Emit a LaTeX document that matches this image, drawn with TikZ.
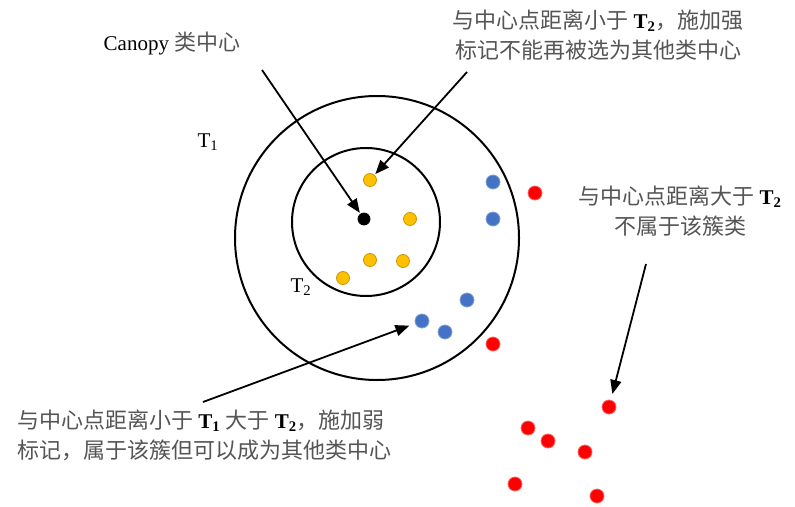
\documentclass[tikz,border=0pt]{standalone}
\usepackage{fontspec}
\setmainfont{Liberation Serif}
\newfontfamily\cjk{Noto Sans CJK SC}
\usetikzlibrary{arrows.meta}
\definecolor{dotyel}{HTML}{FFC000}
\definecolor{dotyeledge}{HTML}{C99700}
\definecolor{dotblue}{HTML}{4472C4}
\definecolor{dotblueedge}{HTML}{7F9FD8}
\definecolor{dotred}{HTML}{FF0000}
\definecolor{dotrededge}{HTML}{FF6060}
\definecolor{cjkgray}{HTML}{555555}
\newcommand{\Tsb}[1]{\textbf{T\textsubscript{#1}}}
\newcommand{\Tnl}[1]{T\textsubscript{#1}}
\newcommand{\zh}[1]{{\cjk\fontsize{22}{30}\selectfont\color{cjkgray}#1}}
\tikzset{
  ring/.style={circle, draw=black, line width=2pt, inner sep=0pt},
  pt/.style={circle, inner sep=0pt, minimum size=14pt, line width=0.8pt},
  ptk/.style={pt, fill=black, draw=black, minimum size=12pt},
  pty/.style={pt, fill=dotyel, draw=dotyeledge, minimum size=13pt},
  ptb/.style={pt, fill=dotblue, draw=dotblueedge},
  ptr/.style={pt, fill=dotred, draw=dotrededge},
  arr/.style={line width=1.8pt, -{Triangle[length=14pt,width=11pt]}},
  lbl/.style={inner sep=0pt, font=\fontsize{21}{30}\selectfont},
}
\begin{document}
\begin{tikzpicture}[x=1pt,y=-1pt]
\useasboundingbox (0,0) rectangle (795,506);
\fill[white] (0,0) rectangle (795,506);
% circles
\node[ring, minimum size=284pt] (outer) at (377,238) {};
\node[ring, minimum size=148pt] (inner) at (366,222) {};
% center
\node[ptk] (c) at (364,219) {};
% yellow
\node[pty] (y1) at (370,180) {};
\node[pty] (y2) at (410,219) {};
\node[pty] (y3) at (370,260) {};
\node[pty] (y4) at (403,261) {};
\node[pty] (y5) at (343,278) {};
% blue
\node[ptb] (b1) at (493,182) {};
\node[ptb] (b2) at (493,219) {};
\node[ptb] (b3) at (467,300) {};
\node[ptb] (b4) at (422,321) {};
\node[ptb] (b5) at (445,332) {};
% red
\node[ptr] (r1) at (535,193) {};
\node[ptr] (r2) at (493,344) {};
\node[ptr] (r3) at (609,407) {};
\node[ptr] (r4) at (528,428) {};
\node[ptr] (r5) at (548,441) {};
\node[ptr] (r6) at (585,452) {};
\node[ptr] (r7) at (515,484) {};
\node[ptr] (r8) at (597,496) {};
% labels
\node[lbl] (canopy) at (172,44) {Canopy \zh{类中心}};
\node[lbl] (t1) at (208,142) {\Tnl{1}};
\node[lbl] (t2) at (301,287) {\Tnl{2}};
\node[lbl, align=center] (strong) at (598,35) {\zh{与中心点距离小于} \Tsb{2}\zh{，施加强}\\\zh{标记不能再被选为其他类中心}};
\node[lbl, align=center] (outside) at (680,211) {\zh{与中心点距离大于} \Tsb{2}\\\zh{不属于该簇类}};
\node[lbl, align=left, anchor=west] (weak) at (17,435) {\zh{与中心点距离小于} \Tsb{1} \zh{大于} \Tsb{2}\zh{，施加弱}\\\zh{标记，属于该簇但可以成为其他类中心}};
% arrows
\coordinate (a1) at (262,70);
\coordinate (a2) at (467,72);
\coordinate (a3) at (646,264);
\coordinate (a4) at (203,402);
\draw[arr, shorten >=1pt] (a1) -- (c);
\draw[arr, shorten >=1pt] (a2) -- (y1);
\draw[arr, shorten >=6pt] (a3) -- (r3);
\draw[arr, shorten >=6pt] (a4) -- (b4);
\end{tikzpicture}
\end{document}
